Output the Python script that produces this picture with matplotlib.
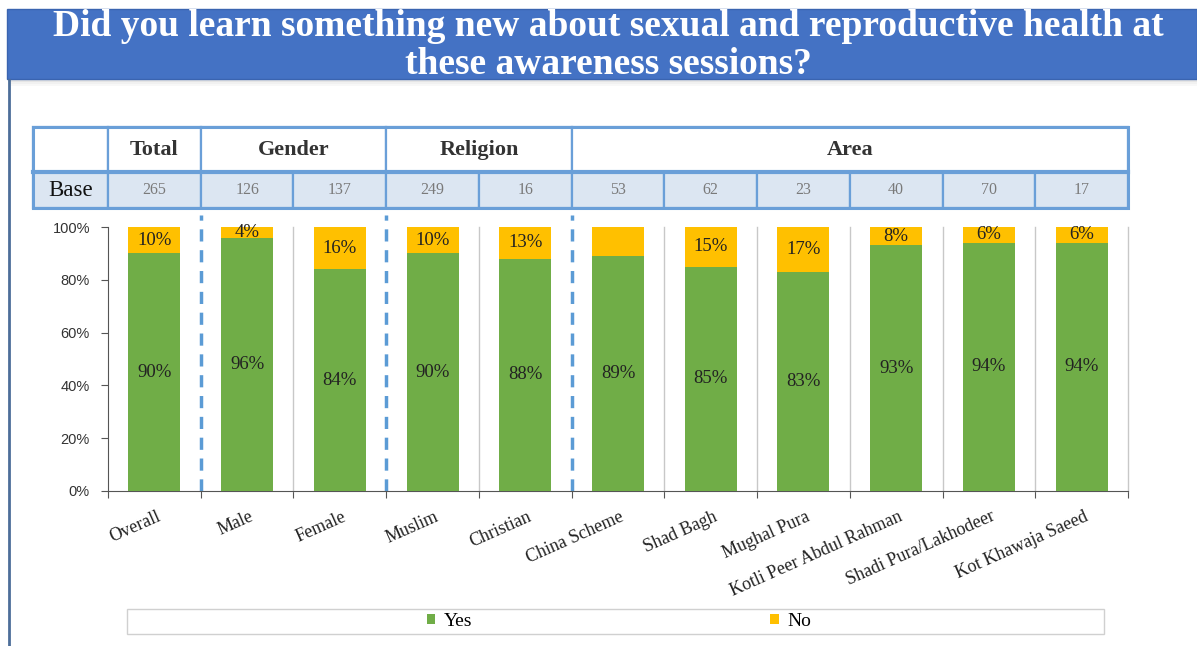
import matplotlib.pyplot as plt
from matplotlib.patches import Rectangle

# data
categories = ["Overall", "Male", "Female", "Muslim", "Christian", "China Scheme",
              "Shad Bagh", "Mughal Pura", "Kotli Peer Abdul Rahman",
              "Shadi Pura/Lakhodeer", "Kot Khawaja Saeed"]
yes_vals = [90, 96, 84, 90, 88, 89, 85, 83, 93, 94, 94]
no_vals = [10, 4, 16, 10, 13, 11, 15, 17, 8, 6, 6]
no_labels = ["10%", "4%", "16%", "10%", "13%", "", "15%", "17%", "8%", "6%", "6%"]
base = [265, 126, 137, 249, 16, 53, 62, 23, 40, 70, 17]
groups = ["Total", "Gender", "Religion", "Area"]
group_sizes = [1, 2, 2, 6]

GREEN = "#70AD47"
YELLOW = "#FFC000"
TBL = "#6A9FD8"
SERIF = "Liberation Serif"

W, H = 1197, 646
fig = plt.figure(figsize=(W / 100, H / 100), dpi=100)

def px(x0, y0, x1, y1):
    # pixel box -> figure fraction [left, bottom, width, height]
    return [x0 / W, 1 - y1 / H, (x1 - x0) / W, (y1 - y0) / H]

# banner with shadow
for i, a in enumerate([0.25, 0.15, 0.08, 0.04]):
    b = px(8, 78 + i * 2, W, 80 + i * 2)
    fig.patches.append(Rectangle((b[0], b[1]), b[2], b[3], transform=fig.transFigure,
                                 facecolor="#555555", alpha=a, edgecolor="none"))
b = px(7, 9, W, 79)
fig.patches.append(Rectangle((b[0], b[1]), b[2], b[3], transform=fig.transFigure,
                             facecolor="#4472C4", edgecolor="#3A64B0", lw=1))
fig.text(608 / W, 1 - 27 / H, "Did you learn something new about sexual and reproductive health at",
         ha="center", va="center", color="white", fontsize=27, fontweight="bold", family=SERIF)
fig.text(608 / W, 1 - 65 / H, "these awareness sessions?",
         ha="center", va="center", color="white", fontsize=27, fontweight="bold", family=SERIF)
# left border line
fig.add_artist(plt.Line2D([9 / W, 9 / W], [0, 1 - 80 / H], transform=fig.transFigure,
                          color="#4D6E99", lw=2))

ax = fig.add_axes(px(108, 227, 1128, 491))
x = list(range(len(categories)))
yes = [v / 100 for v in yes_vals]
no = [v / 100 for v in no_vals]
ax.bar(x, yes, width=0.56, color=GREEN, label="Yes", zorder=3)
ax.bar(x, no, bottom=yes, width=0.56, color=YELLOW, label="No", zorder=3)
ax.set_xlim(-0.5, len(categories) - 0.5)
ax.set_ylim(0, 1)

for i in x:
    ax.text(i, yes[i] / 2, f"{yes_vals[i]}%", ha="center", va="center",
            fontsize=13.5, family=SERIF, color="#222222", zorder=4)
    if no_labels[i]:
        top = min(yes[i] + no[i], 1)
        ax.text(i, (yes[i] + top) / 2, no_labels[i], ha="center", va="center",
                fontsize=13.5, family=SERIF, color="#222222", zorder=4)

# separators between categories
group_edges = []
pos = 0
for s in group_sizes[:-1]:
    pos += s
    group_edges.append(pos - 0.5)
for e in [i + 0.5 for i in x]:
    if e in group_edges:
        ax.plot([e, e], [0, 1.045], color="#5B9BD5", lw=2.5, ls=(0, (3.5, 2.5)),
                clip_on=False, zorder=2)
    else:
        ax.plot([e, e], [0, 1.0], color="#C8C8C8", lw=1, clip_on=False, zorder=2)

ax.set_yticks([0, 0.2, 0.4, 0.6, 0.8, 1.0])
ax.set_yticklabels(["0%", "20%", "40%", "60%", "80%", "100%"],
                   fontsize=10.5, family="Liberation Sans", color="#333333")
ax.set_xticks([i - 0.5 for i in x] + [len(x) - 0.5])
ax.set_xticklabels([])
ax.tick_params(axis="x", length=5, color="#555555")
ax.tick_params(axis="y", length=5, color="#555555", pad=8)
for i, c in enumerate(categories):
    ax.text(i + 0.02, -0.065, c, rotation=24, rotation_mode="anchor", ha="right", va="top",
            transform=ax.get_xaxis_transform(), fontsize=13, family=SERIF, color="#222222")
for s in ["top", "right"]:
    ax.spines[s].set_visible(False)
ax.spines["left"].set_color("#555555")
ax.spines["bottom"].set_color("#555555")

# header table above the chart, drawn in the chart's x units
tr = ax.get_xaxis_transform()
lab0 = -0.5 - 75 / 92.7
r1_top, r1_bot, r2_bot = 1.379, 1.208, 1.072

def cell(x0, x1, y0, y1, fc):
    ax.add_patch(Rectangle((x0, y0), x1 - x0, y1 - y0, transform=tr, clip_on=False,
                           facecolor=fc, edgecolor=TBL, lw=1.6))

cell(lab0, -0.5, r1_bot, r1_top, "white")
cell(lab0, -0.5, r2_bot, r1_bot, "#DCE6F2")
ax.text((lab0 - 0.5) / 2, (r2_bot + r1_bot) / 2, "Base", transform=tr, ha="center",
        va="center", fontsize=16.5, family=SERIF, color="#111111")
start = -0.5
for g, s in zip(groups, group_sizes):
    cell(start, start + s, r1_bot, r1_top, "white")
    ax.text(start + s / 2, (r1_bot + r1_top) / 2, g, transform=tr, ha="center", va="center",
            fontsize=16, fontweight="bold", family=SERIF, color="#333333")
    start += s
for i in x:
    cell(i - 0.5, i + 0.5, r2_bot, r1_bot, "#DCE6F2")
    ax.text(i, (r2_bot + r1_bot) / 2, str(base[i]), transform=tr, ha="center", va="center",
            fontsize=11.5, family=SERIF, color="#7A7A7A")
ax.plot([lab0, len(x) - 0.5], [r1_bot, r1_bot], transform=tr, color=TBL, lw=3, clip_on=False)
ax.add_patch(Rectangle((lab0, r2_bot), len(x) - 0.5 - lab0, r1_top - r2_bot, transform=tr,
                       clip_on=False, facecolor="none", edgecolor=TBL, lw=2.2))

# legend box
b = px(127, 609, 1104, 634)
fig.patches.append(Rectangle((b[0], b[1]), b[2], b[3], transform=fig.transFigure,
                             facecolor="white", edgecolor="#D0D0D0", lw=1))
fig.legend(loc="center", bbox_to_anchor=(619 / W, 1 - 621.5 / H), ncol=2, frameon=False,
           prop={"family": SERIF, "size": 14}, handlelength=0.45, handleheight=0.45,
           handletextpad=0.45, columnspacing=15.3)

fig.savefig("out.png", dpi=100)
